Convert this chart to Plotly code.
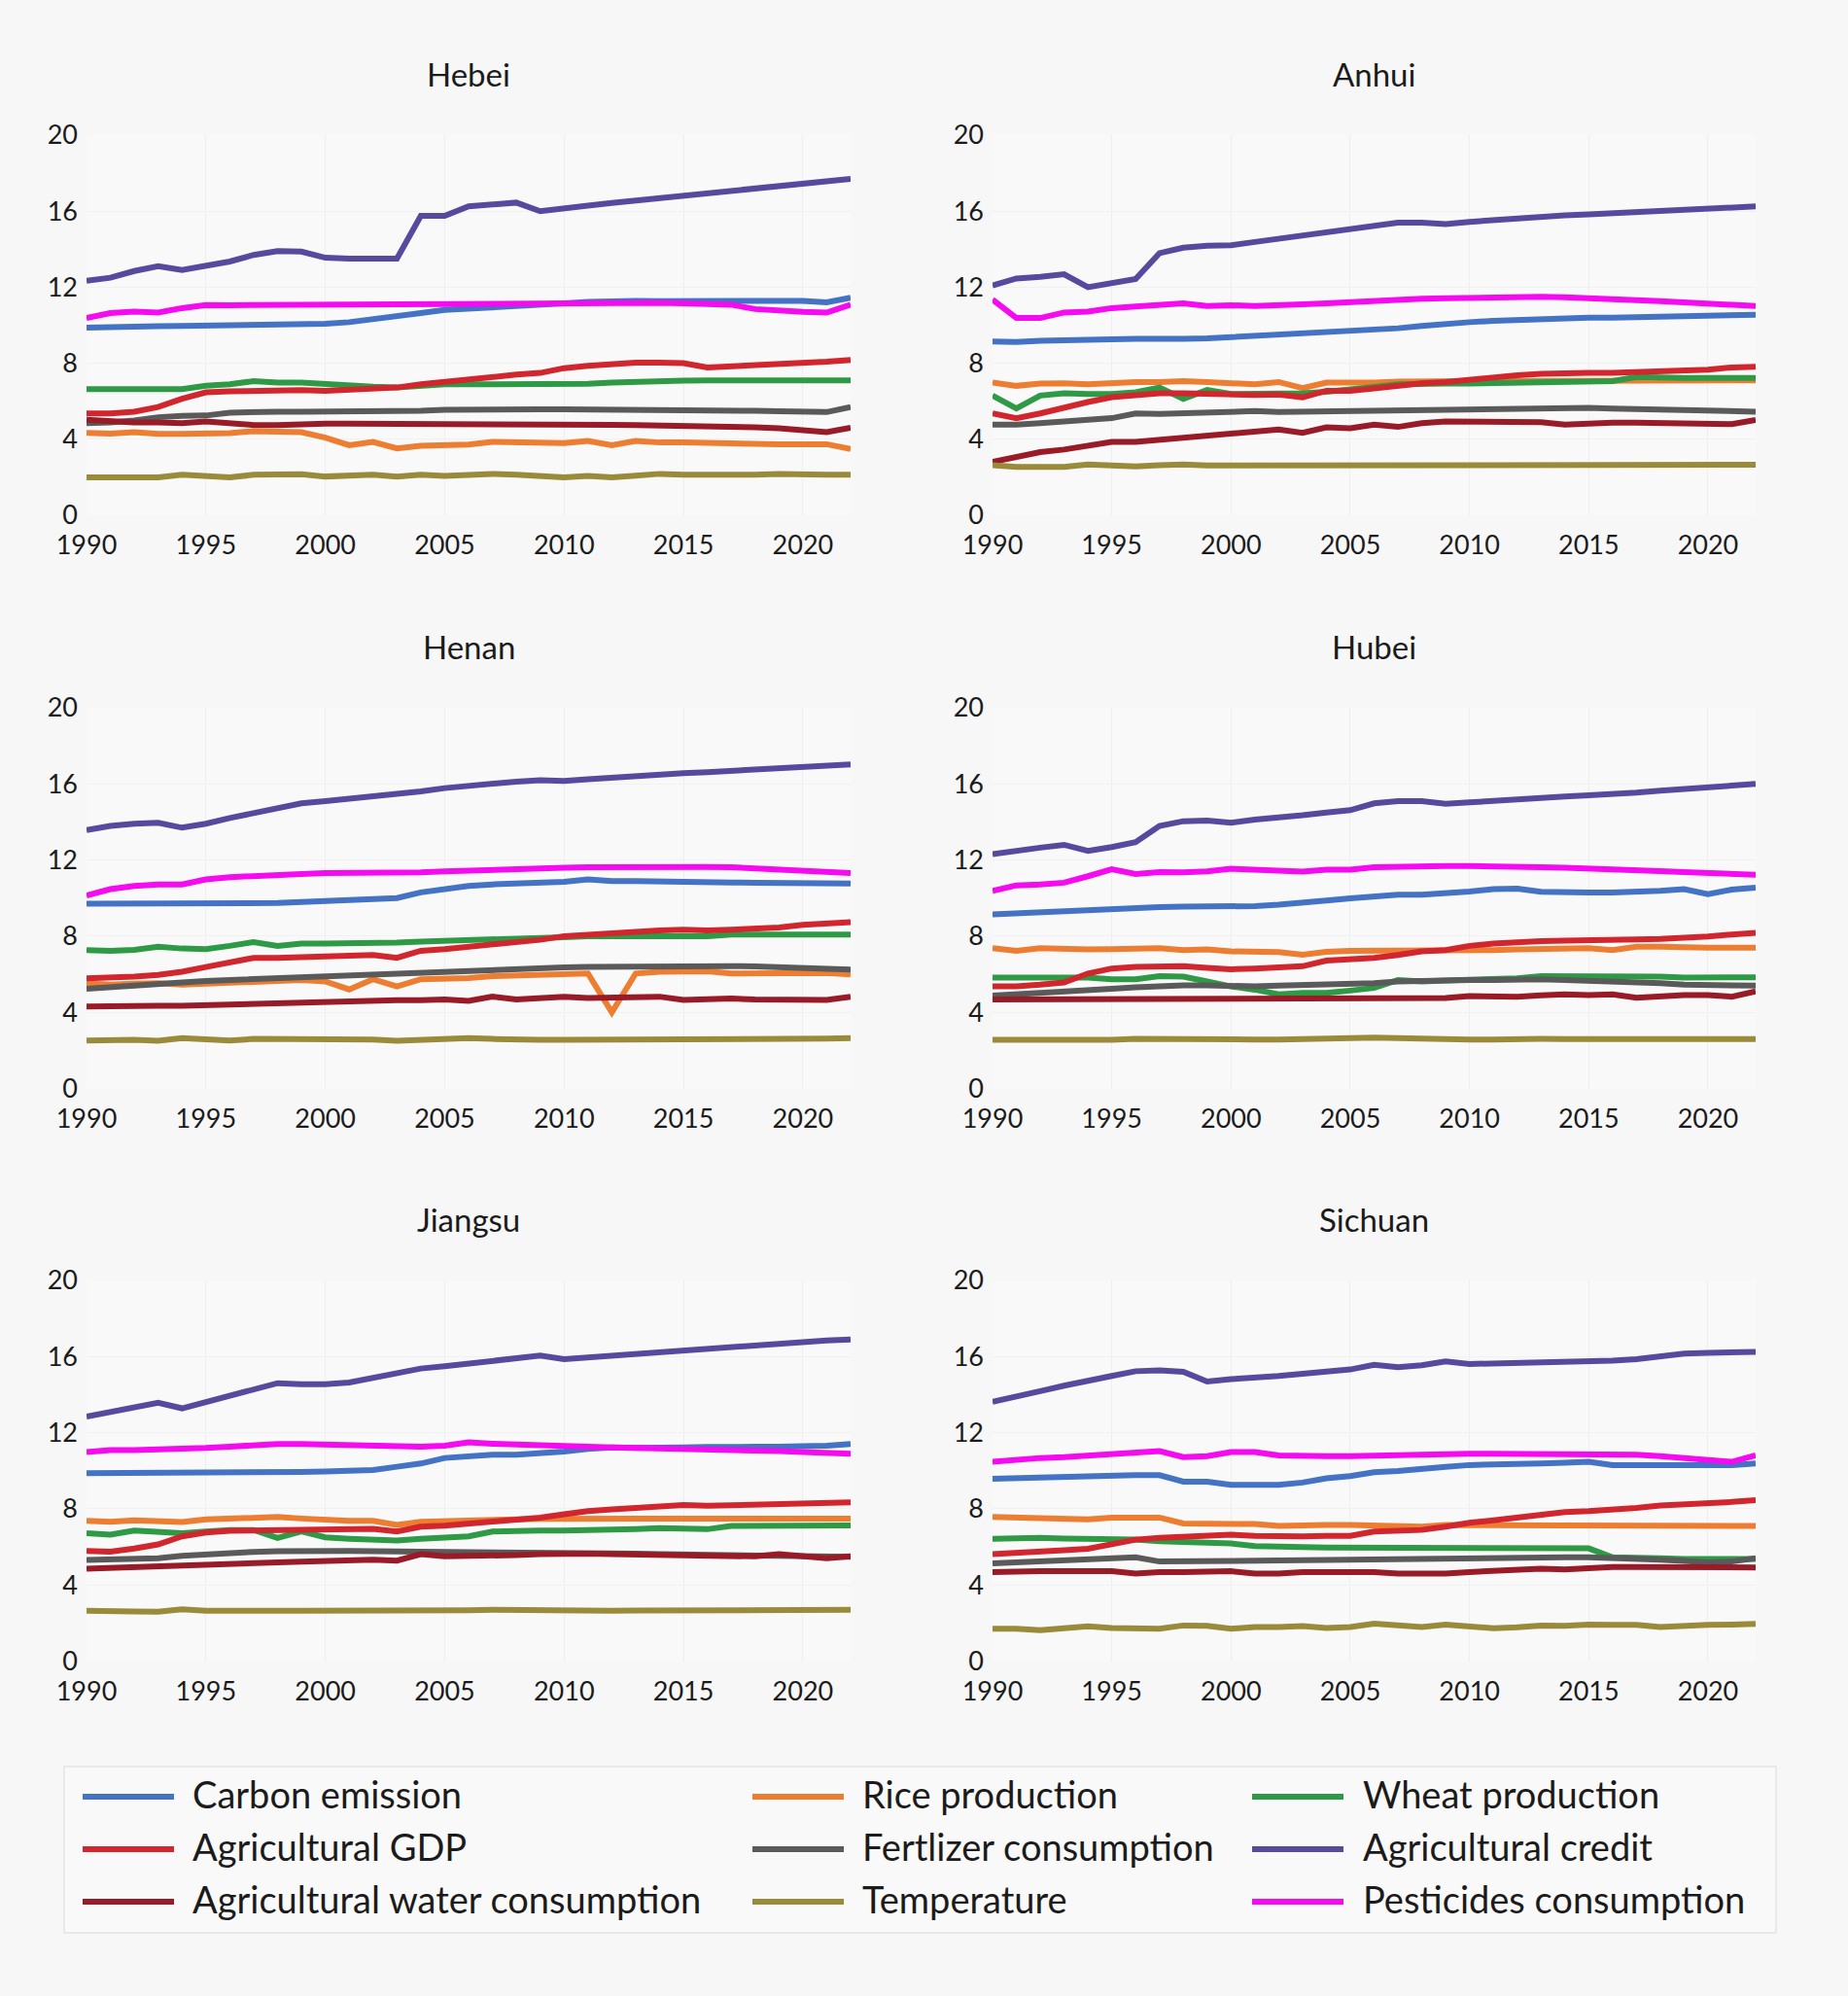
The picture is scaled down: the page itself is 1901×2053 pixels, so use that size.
import plotly.graph_objects as go

years = list(range(1990, 2023))
tick_years = [1990, 1995, 2000, 2005, 2010, 2015, 2020]
y_ticks = [0, 4, 8, 12, 16, 20]

provinces = ["Hebei", "Anhui", "Henan", "Hubei", "Jiangsu", "Sichuan"]
series_names = ["Carbon emission", "Rice production", "Wheat production",
                "Agricultural GDP", "Fertlizer consumption", "Agricultural credit",
                "Agricultural water consumption", "Temperature", "Pesticides consumption"]
series_keys = ["carbon", "rice", "wheat", "gdp", "fert", "credit", "water", "temp", "pest"]
series_colors = ["#4472C4", "#ED7D31", "#2F9A45", "#D2262E", "#5A5A5A",
                 "#574A9E", "#9A1B28", "#9A8B3A", "#F40BF0"]

# ---------------- Hebei ----------------
hebei_carbon = [9.87,9.92,9.94,9.95,9.96,9.98,10.0,10.02,10.03,10.04,10.08,10.16,10.3,10.47,10.64,10.8,10.86,10.93,10.98,11.03,11.15,11.23,11.28,11.28,11.26,11.28,11.28,11.28,11.28,11.28,11.28,11.2,11.45]
hebei_rice = [4.34,4.3,4.37,4.29,4.29,4.3,4.32,4.43,4.43,4.37,4.09,3.69,3.86,3.52,3.66,3.71,3.72,3.86,3.83,3.86,3.8,3.91,3.69,3.91,3.83,3.83,3.8,3.74,3.77,3.74,3.74,3.74,3.49]
hebei_wheat = [6.64,6.64,6.64,6.62,6.64,6.81,6.89,7.06,6.98,6.98,6.89,6.81,6.76,6.72,6.8,6.89,6.89,6.89,6.89,6.89,6.89,6.92,6.98,7.03,7.06,7.08,7.1,7.1,7.08,7.08,7.08,7.1,7.1]
hebei_gdp = [5.36,5.36,5.45,5.7,6.13,6.47,6.52,6.55,6.6,6.58,6.55,6.6,6.64,6.72,6.89,7.03,7.15,7.32,7.4,7.49,7.74,7.86,7.95,8.03,8.03,8.0,7.78,7.83,7.88,7.91,8.0,8.08,8.17]
hebei_fert = [4.85,4.88,4.99,5.16,5.23,5.25,5.4,5.45,5.45,5.45,5.45,5.45,5.45,5.47,5.5,5.55,5.57,5.57,5.57,5.57,5.57,5.57,5.57,5.57,5.57,5.57,5.55,5.52,5.5,5.47,5.45,5.43,5.7]
hebei_credit = [12.34,12.5,12.85,13.1,12.9,13.1,13.35,13.7,13.9,13.87,13.55,13.5,13.5,13.5,15.75,15.75,16.25,16.35,16.45,16.0,16.17,16.29,16.43,16.56,16.68,16.8,16.94,17.07,17.23,17.36,17.48,17.62,17.7]
hebei_water = [5.02,4.94,4.88,4.88,4.85,4.94,4.82,4.75,4.75,4.8,4.82,4.82,4.82,4.8,4.8,4.82,4.82,4.82,4.78,4.78,4.78,4.75,4.76,4.74,4.73,4.72,4.68,4.67,4.63,4.58,4.51,4.37,4.6]
hebei_temp = [2.0,2.0,2.0,2.0,2.13,2.07,2.0,2.13,2.16,2.16,2.04,2.07,2.13,2.04,2.13,2.07,2.16,2.18,2.13,2.09,2.0,2.07,2.0,2.09,2.18,2.14,2.13,2.16,2.14,2.18,2.13,2.13,2.13]
hebei_pest = [10.38,10.64,10.72,10.67,10.9,11.06,11.05,11.06,11.06,11.06,11.07,11.08,11.08,11.1,11.12,11.15,11.17,11.18,11.18,11.2,11.2,11.2,11.2,11.2,11.18,11.15,11.12,11.08,10.85,10.75,10.7,10.66,11.08]

# ---------------- Anhui ----------------
anhui_carbon = [9.14,9.12,9.18,9.23,9.25,9.26,9.28,9.26,9.28,9.31,9.38,9.43,9.48,9.57,9.62,9.67,9.74,9.84,9.96,10.08,10.16,10.23,10.28,10.35,10.38,10.4,10.4,10.42,10.43,10.45,10.48,10.52,10.55]
anhui_rice = [6.98,6.81,6.93,6.95,6.89,6.98,7.01,7.01,7.06,7.01,6.95,6.89,7.01,6.69,6.98,6.95,6.98,7.03,7.06,7.06,7.06,7.06,7.06,7.06,7.06,7.06,7.06,7.08,7.1,7.1,7.1,7.1,7.1]
anhui_wheat = [6.3,5.62,6.3,6.42,6.38,6.38,6.47,6.72,6.13,6.59,6.38,6.38,6.38,6.42,6.5,6.6,6.75,6.89,6.93,6.93,6.93,6.96,7.0,7.01,7.05,7.08,7.06,7.27,7.23,7.23,7.23,7.23,7.23]
anhui_gdp = [5.36,5.11,5.36,5.67,5.96,6.21,6.35,6.42,6.42,6.38,6.35,6.33,6.35,6.21,6.55,6.55,6.67,6.81,6.94,7.01,7.15,7.27,7.37,7.44,7.49,7.5,7.5,7.53,7.57,7.6,7.66,7.78,7.81]
anhui_fert = [4.77,4.77,4.85,4.97,5.02,5.11,5.36,5.33,5.36,5.4,5.4,5.48,5.43,5.45,5.45,5.48,5.53,5.55,5.55,5.57,5.58,5.62,5.65,5.65,5.65,5.65,5.62,5.58,5.55,5.52,5.48,5.47,5.45]
anhui_credit = [12.09,12.46,12.54,12.68,12.0,12.2,12.43,13.79,14.08,14.18,14.21,14.38,14.55,14.76,14.93,15.06,15.2,15.4,15.4,15.32,15.44,15.54,15.64,15.71,15.78,15.83,15.88,15.95,16.02,16.08,16.15,16.2,16.25]
anhui_water = [2.81,3.06,3.32,3.46,3.69,3.86,3.86,3.97,4.09,4.2,4.29,4.43,4.51,4.34,4.63,4.58,4.77,4.65,4.85,4.94,4.94,4.92,4.89,4.9,4.77,4.85,4.87,4.87,4.85,4.83,4.8,4.8,5.02]
anhui_temp = [2.64,2.55,2.55,2.55,2.67,2.6,2.57,2.64,2.67,2.62,2.62,2.62,2.64,2.6,2.64,2.6,2.64,2.66,2.6,2.62,2.6,2.6,2.62,2.64,2.62,2.62,2.64,2.64,2.64,2.64,2.66,2.66,2.66]
anhui_pest = [11.35,10.38,10.38,10.67,10.72,10.9,10.98,11.1,11.15,11.01,11.05,11.01,11.03,11.1,11.15,11.23,11.25,11.32,11.4,11.42,11.44,11.49,11.49,11.49,11.47,11.44,11.39,11.32,11.27,11.22,11.15,11.07,11.01]

# ---------------- Henan ----------------
henan_carbon = [9.7,9.7,9.7,9.7,9.7,9.7,9.7,9.7,9.74,9.79,9.84,9.91,9.96,10.0,10.3,10.5,10.64,10.72,10.77,10.79,10.86,10.98,10.89,10.89,10.89,10.84,10.82,10.82,10.81,10.81,10.74,10.76,10.76]
henan_rice = [5.53,5.45,5.5,5.53,5.45,5.5,5.57,5.62,5.67,5.7,5.62,5.2,5.74,5.36,5.74,5.75,5.8,5.9,5.94,5.97,6.01,6.04,4.0,6.04,6.13,6.16,6.16,6.04,6.04,6.09,6.11,6.07,5.99]
henan_wheat = [7.27,7.23,7.28,7.44,7.35,7.32,7.49,7.69,7.49,7.61,7.61,7.61,7.61,7.66,7.71,7.74,7.78,7.86,7.9,7.9,7.95,8.0,8.0,8.0,8.0,8.0,8.0,8.09,8.09,8.09,8.09,8.09,8.09]
henan_gdp = [5.79,5.82,5.87,5.96,6.13,6.38,6.64,6.86,6.86,6.89,6.94,6.98,7.01,6.86,7.23,7.32,7.44,7.57,7.69,7.81,8.0,8.09,8.17,8.26,8.3,8.34,8.3,8.34,8.39,8.46,8.6,8.68,8.73]
henan_fert = [5.23,5.33,5.43,5.53,5.57,5.65,5.7,5.75,5.82,5.87,5.92,5.96,6.0,6.04,6.07,6.11,6.18,6.25,6.3,6.33,6.36,6.38,6.4,6.41,6.41,6.43,6.43,6.43,6.41,6.38,6.33,6.28,6.25]
henan_credit = [13.57,13.79,13.91,13.96,13.7,13.91,14.21,14.47,14.72,14.98,15.1,15.23,15.32,15.44,15.61,15.78,15.91,16.03,16.12,16.2,16.15,16.25,16.34,16.43,16.5,16.56,16.62,16.68,16.75,16.82,16.88,16.94,17.02]
henan_water = [4.31,4.34,4.34,4.34,4.34,4.38,4.41,4.44,4.48,4.51,4.54,4.58,4.6,4.63,4.63,4.68,4.6,4.82,4.68,4.77,4.82,4.75,4.75,4.77,4.82,4.65,4.72,4.72,4.68,4.68,4.7,4.65,4.82]
henan_temp = [2.52,2.55,2.55,2.5,2.64,2.58,2.52,2.6,2.6,2.58,2.55,2.55,2.57,2.5,2.57,2.58,2.64,2.6,2.55,2.55,2.55,2.55,2.57,2.62,2.6,2.58,2.6,2.6,2.62,2.62,2.6,2.62,2.64]
henan_pest = [10.13,10.47,10.64,10.72,10.72,10.98,11.1,11.18,11.2,11.27,11.32,11.32,11.35,11.37,11.35,11.4,11.45,11.52,11.57,11.58,11.6,11.62,11.63,11.66,11.66,11.66,11.64,11.62,11.57,11.49,11.44,11.38,11.32]

# ---------------- Hubei ----------------
hubei_carbon = [9.14,9.2,9.28,9.35,9.4,9.45,9.5,9.53,9.55,9.55,9.62,9.58,9.65,9.79,9.87,9.99,10.09,10.18,10.18,10.23,10.35,10.47,10.5,10.33,10.35,10.3,10.3,10.33,10.38,10.47,10.21,10.45,10.55]
hubei_rice = [7.37,7.23,7.37,7.3,7.3,7.32,7.33,7.37,7.27,7.3,7.2,7.15,7.16,7.03,7.18,7.23,7.23,7.23,7.23,7.21,7.23,7.27,7.3,7.3,7.33,7.37,7.27,7.44,7.44,7.4,7.4,7.4,7.4]
hubei_wheat = [5.82,5.82,5.79,5.82,5.82,5.74,5.74,5.9,5.87,5.62,5.36,5.19,4.94,5.02,5.02,5.14,5.28,5.7,5.62,5.67,5.7,5.74,5.79,5.9,5.9,5.9,5.9,5.89,5.87,5.82,5.82,5.82,5.84]
hubei_gdp = [5.36,5.36,5.45,5.57,6.04,6.3,6.38,6.42,6.42,6.33,6.26,6.3,6.33,6.42,6.72,6.76,6.86,7.01,7.2,7.27,7.49,7.61,7.69,7.74,7.77,7.77,7.77,7.83,7.86,7.91,7.98,8.09,8.17]
hubei_fert = [4.88,4.94,4.99,5.07,5.14,5.23,5.31,5.4,5.42,5.42,5.36,5.36,5.4,5.43,5.45,5.48,5.53,5.62,5.67,5.7,5.7,5.7,5.74,5.74,5.7,5.67,5.65,5.62,5.53,5.45,5.41,5.4,5.4]
hubei_credit = [12.31,12.51,12.65,12.8,12.48,12.68,12.94,13.79,14.04,14.07,13.96,14.13,14.21,14.35,14.5,14.62,14.98,15.1,15.1,14.96,15.03,15.12,15.2,15.27,15.34,15.4,15.45,15.54,15.64,15.74,15.83,15.91,16.0]
hubei_water = [4.68,4.68,4.68,4.68,4.68,4.68,4.68,4.68,4.68,4.68,4.68,4.68,4.68,4.68,4.68,4.72,4.75,4.75,4.72,4.75,4.85,4.82,4.82,4.89,4.94,4.91,4.94,4.77,4.85,4.91,4.91,4.82,5.1]
hubei_temp = [2.55,2.55,2.57,2.57,2.52,2.55,2.6,2.58,2.58,2.55,2.59,2.57,2.57,2.6,2.6,2.6,2.67,2.64,2.6,2.6,2.57,2.57,2.55,2.6,2.59,2.59,2.6,2.57,2.59,2.59,2.59,2.57,2.59]
hubei_pest = [10.38,10.67,10.72,10.81,11.15,11.52,11.27,11.37,11.35,11.4,11.54,11.49,11.45,11.39,11.49,11.49,11.62,11.66,11.69,11.69,11.69,11.69,11.67,11.62,11.6,11.57,11.54,11.49,11.42,11.37,11.32,11.28,11.22]

# ---------------- Jiangsu ----------------
jiangsu_carbon = [9.87,9.87,9.87,9.88,9.9,9.9,9.92,9.9,9.92,9.94,9.96,9.99,10.04,10.21,10.38,10.67,10.77,10.84,10.84,10.89,11.01,11.15,11.23,11.2,11.18,11.22,11.25,11.28,11.26,11.26,11.26,11.32,11.4]
jiangsu_rice = [7.37,7.32,7.4,7.37,7.3,7.44,7.47,7.54,7.57,7.49,7.4,7.37,7.37,7.15,7.32,7.37,7.4,7.4,7.45,7.47,7.49,7.49,7.49,7.49,7.49,7.49,7.49,7.49,7.49,7.49,7.49,7.49,7.49]
jiangsu_wheat = [6.72,6.64,6.86,6.81,6.72,6.81,6.89,6.89,6.47,6.81,6.5,6.43,6.38,6.33,6.42,6.47,6.55,6.81,6.86,6.86,6.86,6.87,6.89,6.93,6.98,6.98,6.93,7.1,7.1,7.1,7.1,7.12,7.13]
jiangsu_gdp = [5.79,5.75,5.91,6.13,6.55,6.76,6.85,6.86,6.86,6.86,6.89,6.93,6.95,6.81,7.06,7.11,7.2,7.32,7.4,7.54,7.71,7.88,7.97,8.03,8.11,8.2,8.16,8.18,8.2,8.21,8.25,8.3,8.34]
jiangsu_fert = [5.31,5.36,5.4,5.4,5.53,5.62,5.67,5.74,5.77,5.79,5.79,5.79,5.77,5.76,5.74,5.74,5.74,5.74,5.74,5.74,5.74,5.7,5.67,5.65,5.62,5.6,5.57,5.55,5.53,5.52,5.5,5.48,5.48]
jiangsu_credit = [12.85,13.1,13.33,13.57,13.28,13.62,13.96,14.25,14.6,14.55,14.55,14.64,14.86,15.1,15.37,15.49,15.63,15.74,15.86,16.05,15.86,15.95,16.03,16.12,16.2,16.28,16.37,16.48,16.6,16.71,16.8,16.85,16.9]
jiangsu_water = [4.85,4.9,4.94,4.99,5.04,5.07,5.1,5.14,5.19,5.22,5.26,5.29,5.33,5.28,5.62,5.5,5.5,5.53,5.57,5.62,5.65,5.65,5.62,5.6,5.57,5.5,5.48,5.5,5.5,5.62,5.5,5.4,5.5]
jiangsu_temp = [2.64,2.59,2.6,2.59,2.72,2.64,2.62,2.62,2.65,2.64,2.64,2.64,2.64,2.6,2.64,2.64,2.67,2.69,2.67,2.64,2.64,2.64,2.64,2.66,2.67,2.64,2.64,2.66,2.67,2.67,2.67,2.69,2.69]
jiangsu_pest = [10.98,11.08,11.08,11.1,11.15,11.2,11.27,11.35,11.4,11.4,11.37,11.32,11.32,11.23,11.27,11.32,11.49,11.42,11.37,11.35,11.32,11.27,11.23,11.2,11.18,11.18,11.15,11.12,11.08,11.03,10.98,10.94,10.89]

# ---------------- Sichuan ----------------
sichuan_carbon = [9.58,9.62,9.65,9.7,9.72,9.75,9.77,9.77,9.43,9.43,9.26,9.26,9.26,9.38,9.6,9.72,9.92,9.99,10.13,10.21,10.3,10.35,10.35,10.38,10.42,10.47,10.3,10.3,10.26,10.23,10.3,10.3,10.38]
sichuan_rice = [7.57,7.52,7.54,7.49,7.44,7.54,7.57,7.54,7.23,7.23,7.26,7.2,7.1,7.15,7.15,7.15,7.13,7.06,7.06,7.15,7.15,7.15,7.15,7.15,7.15,7.15,7.15,7.1,7.1,7.1,7.1,7.1,7.1]
sichuan_wheat = [6.42,6.47,6.47,6.44,6.42,6.42,6.38,6.3,6.25,6.25,6.18,6.04,6.04,5.99,5.96,5.96,5.99,5.99,5.96,5.96,5.94,5.94,5.96,5.96,5.94,5.92,5.45,5.45,5.4,5.36,5.36,5.36,5.36]
sichuan_gdp = [5.62,5.67,5.74,5.82,5.9,6.16,6.38,6.47,6.55,6.58,6.64,6.58,6.55,6.55,6.58,6.58,6.81,6.86,6.89,7.06,7.27,7.4,7.54,7.71,7.83,7.88,7.95,8.05,8.17,8.22,8.29,8.36,8.46]
sichuan_fert = [5.14,5.19,5.23,5.28,5.36,5.43,5.45,5.23,5.23,5.26,5.28,5.28,5.28,5.3,5.31,5.33,5.35,5.36,5.4,5.41,5.43,5.43,5.45,5.45,5.45,5.45,5.43,5.4,5.33,5.26,5.19,5.23,5.4]
sichuan_credit = [13.62,13.87,14.18,14.47,14.69,14.98,15.23,15.27,15.2,14.69,14.81,14.86,14.98,15.1,15.23,15.32,15.57,15.44,15.54,15.74,15.61,15.63,15.66,15.69,15.71,15.74,15.79,15.86,15.99,16.15,16.2,16.22,16.25]
sichuan_water = [4.68,4.72,4.72,4.72,4.72,4.72,4.6,4.68,4.68,4.72,4.72,4.6,4.6,4.68,4.68,4.68,4.68,4.6,4.6,4.6,4.68,4.75,4.77,4.85,4.82,4.89,4.94,4.94,4.94,4.96,4.94,4.92,4.92]
sichuan_temp = [1.7,1.7,1.62,1.74,1.82,1.74,1.7,1.7,1.87,1.85,1.7,1.79,1.79,1.84,1.74,1.79,1.96,1.85,1.79,1.92,1.85,1.72,1.77,1.87,1.85,1.92,1.9,1.9,1.79,1.87,1.9,1.92,1.96]
sichuan_pest = [10.47,10.6,10.67,10.72,10.81,10.9,10.98,11.03,10.72,10.77,10.98,10.98,10.81,10.77,10.77,10.77,10.81,10.84,10.87,10.89,10.9,10.9,10.9,10.89,10.87,10.87,10.86,10.84,10.77,10.67,10.55,10.47,10.81]

data = {}
for p in provinces:
    data[p] = {k: globals()[f"{p.lower()}_{k}"] for k in series_keys}

# ---------------- layout geometry (pixels) ----------------
W, H = 1901, 2053
col_x = [(89, 875), (1021, 1806)]
row_y = [(139, 530), (728, 1119.5), (1317, 1708.5)]

FONT = "Lato, 'Open Sans', sans-serif"
TXT = "#1b1b1b"
BG = "#f7f7f7"
LW = 6

fig = go.Figure()
layout_axes = {}
annotations = []

for i, prov in enumerate(provinces):
    r, c = divmod(i, 2)
    n = i + 1
    xa = "x" if n == 1 else f"x{n}"
    ya = "y" if n == 1 else f"y{n}"
    x0, x1 = col_x[c]
    yt, yb = row_y[r]
    for k, name, color in zip(series_keys, series_names, series_colors):
        fig.add_trace(go.Scatter(
            x=years, y=data[prov][k], mode="lines", name=name,
            line=dict(color=color, width=LW), xaxis=xa, yaxis=ya,
            showlegend=False, hoverinfo="x+y+name"))
    layout_axes[f"xaxis{'' if n == 1 else n}"] = dict(
        domain=[x0 / W, x1 / W], anchor=ya, range=[1990, 2022], automargin=False,
        tickvals=tick_years, showgrid=True, gridcolor="#eeeeee", gridwidth=1,
        zeroline=False, showline=False, ticks="", ticklabelstandoff=12,
        tickfont=dict(family=FONT, size=27, color=TXT), fixedrange=True)
    layout_axes[f"yaxis{'' if n == 1 else n}"] = dict(
        domain=[1 - yb / H, 1 - yt / H], anchor=xa, range=[0, 20], automargin=False,
        tickvals=y_ticks, showgrid=True, gridcolor="#f1f1f1", gridwidth=1,
        zeroline=False, showline=False, ticks="", ticklabelstandoff=8,
        tickfont=dict(family=FONT, size=27, color=TXT), fixedrange=True)
    annotations.append(dict(
        text=prov, x=(x0 + x1) / 2 / W, y=1 - (yt - 63) / H, xref="paper", yref="paper",
        showarrow=False, xanchor="center", yanchor="middle",
        font=dict(family=FONT, size=33, color=TXT)))

# ---------------- custom legend (3 columns x 3 rows) ----------------
shapes = [dict(type="rect", xref="paper", yref="paper",
               x0=66 / W, x1=1827 / W, y0=1 - 1988 / H, y1=1 - 1817 / H,
               line=dict(color="#e4e4e4", width=1.5), fillcolor="#f9f9f9", layer="below")]
leg_line_x = [(85, 179), (774, 868), (1288, 1382)]
leg_text_x = [196, 885, 1400]
leg_row_y = [1848, 1902, 1956]
for j, (name, color) in enumerate(zip(series_names, series_colors)):
    rr, cc = divmod(j, 3)
    yy = 1 - leg_row_y[rr] / H
    lx0, lx1 = leg_line_x[cc]
    shapes.append(dict(type="line", xref="paper", yref="paper",
                       x0=lx0 / W, x1=lx1 / W, y0=yy, y1=yy,
                       line=dict(color=color, width=LW)))
    annotations.append(dict(text=name, x=leg_text_x[cc] / W, y=1 - (leg_row_y[rr] - 3) / H,
                            xref="paper", yref="paper",
                            showarrow=False, xanchor="left", yanchor="middle",
                            font=dict(family=FONT, size=38, color=TXT)))

fig.update_layout(
    width=W, height=H, autosize=False, margin=dict(l=0, r=0, t=0, b=0, pad=0, autoexpand=False),
    paper_bgcolor=BG, plot_bgcolor="#f9f9f9",
    showlegend=False, annotations=annotations, shapes=shapes,
    font=dict(family=FONT, color=TXT), **layout_axes)

fig.write_html(
    "out.html",
    config={"displayModeBar": False},
    post_script="document.body.style.margin='0';document.body.style.padding='0';"
                "document.body.style.background='" + BG + "';"
                "document.documentElement.style.overflow='hidden';")
